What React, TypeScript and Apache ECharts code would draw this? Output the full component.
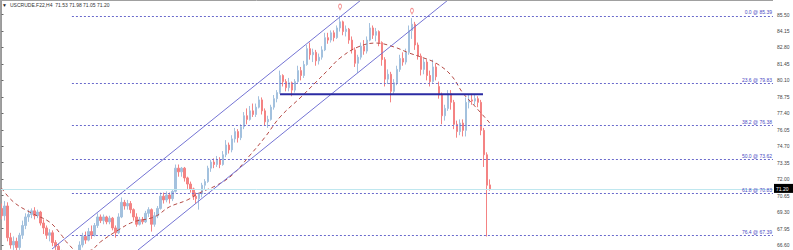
import React, { useEffect, useRef } from "react";
import * as echarts from "echarts";

const chartTitle = "USCRUDE.F22,H4  71.53 71.98 71.05 71.20";

// [open, close, low, high]
const candles: [number, number, number, number][] = [
  [69.6, 69.0, 68.7, 70.0], [69.0, 69.8, 68.6, 70.2], [69.8, 67.2, 66.9, 70.1], [67.2, 66.6, 66.3, 67.6],
  [66.6, 66.9, 66.2, 67.3], [66.9, 66.4, 66.1, 67.2], [66.4, 67.4, 66.2, 67.6], [67.4, 68.2, 67.1, 68.6],
  [68.2, 68.9, 67.9, 69.2], [68.9, 69.1, 68.5, 69.5], [69.1, 69.4, 68.8, 69.6], [69.4, 69.0, 68.7, 69.7],
  [69.0, 69.3, 68.8, 69.5], [69.3, 68.4, 68.2, 69.4], [68.4, 68.0, 67.5, 68.7], [68.0, 67.4, 67.1, 68.2],
  [67.4, 67.6, 66.9, 67.9], [67.6, 66.8, 66.5, 67.8], [66.8, 66.5, 66.2, 67.0], [66.5, 66.1, 65.8, 66.7],
  [66.1, 65.7, 65.4, 66.2], [65.7, 65.3, 65.0, 65.9], [65.3, 65.6, 65.1, 65.9], [65.6, 65.2, 64.9, 65.8],
  [65.2, 65.7, 65.0, 65.9], [65.7, 66.0, 65.5, 66.1], [66.0, 66.6, 65.8, 66.9], [66.6, 67.3, 66.4, 67.6],
  [67.3, 67.0, 66.7, 67.7], [67.0, 67.7, 66.9, 68.0], [67.7, 67.4, 67.1, 68.2], [67.4, 68.2, 67.3, 68.4],
  [68.2, 68.9, 68.0, 69.2], [68.9, 68.6, 68.4, 69.1], [68.6, 68.9, 68.3, 69.1], [68.9, 68.5, 68.3, 69.0],
  [68.5, 68.8, 68.3, 69.0], [68.8, 68.0, 67.8, 68.9], [68.0, 67.6, 67.2, 68.2], [67.6, 68.9, 67.5, 69.2],
  [68.9, 70.1, 68.8, 70.5], [70.1, 69.8, 69.5, 70.3], [69.8, 70.0, 69.5, 70.3], [70.0, 69.5, 69.2, 70.2],
  [69.5, 68.9, 68.6, 69.6], [68.9, 68.3, 68.1, 69.2], [68.3, 68.7, 68.2, 68.9], [68.7, 68.5, 68.3, 68.9],
  [68.5, 69.2, 68.4, 69.4], [69.2, 69.5, 68.9, 69.7], [69.5, 68.3, 67.7, 69.6], [68.3, 69.0, 68.1, 69.3],
  [69.0, 69.6, 68.8, 69.8], [69.6, 70.6, 69.5, 70.9], [70.6, 70.3, 70.0, 70.9], [70.3, 70.7, 70.1, 71.0],
  [70.7, 70.4, 70.0, 70.9], [70.4, 71.0, 70.2, 71.1], [71.0, 72.9, 70.9, 73.2], [72.9, 72.6, 72.2, 73.2],
  [72.6, 72.9, 72.2, 73.0], [72.9, 72.1, 71.8, 73.0], [72.1, 71.6, 71.2, 72.2], [71.6, 71.2, 70.9, 71.8],
  [71.2, 70.6, 70.3, 71.3], [70.6, 70.4, 70.0, 70.9], [70.4, 70.8, 69.5, 70.9], [70.8, 71.5, 70.5, 71.7],
  [71.5, 71.8, 71.2, 72.0], [71.8, 72.9, 71.7, 73.1], [72.9, 73.4, 72.6, 73.6], [73.4, 73.2, 72.9, 73.7],
  [73.2, 73.6, 73.0, 73.9], [73.6, 73.2, 72.9, 73.8], [73.2, 74.0, 73.1, 74.3], [74.0, 74.8, 73.8, 75.2],
  [74.8, 74.4, 74.1, 75.0], [74.4, 75.3, 74.2, 75.6], [75.3, 75.9, 75.0, 76.2], [75.9, 75.4, 75.0, 76.1],
  [75.4, 76.3, 75.2, 76.5], [76.3, 77.2, 76.1, 77.5], [77.2, 76.9, 76.5, 77.8], [76.9, 77.6, 76.8, 78.0],
  [77.6, 77.3, 77.1, 78.2], [77.3, 77.9, 77.1, 78.2], [77.9, 78.5, 77.8, 78.8], [78.5, 77.6, 77.3, 78.7],
  [77.6, 76.7, 76.4, 77.8], [76.7, 76.9, 76.2, 77.2], [76.9, 77.9, 76.8, 78.1], [77.9, 78.6, 77.7, 78.9],
  [78.6, 79.1, 78.3, 79.3], [79.1, 80.5, 79.0, 80.9], [80.5, 80.0, 79.6, 80.6], [80.0, 79.5, 79.2, 80.2],
  [79.5, 79.9, 79.2, 80.3], [79.9, 79.3, 78.8, 80.0], [79.3, 80.0, 79.1, 80.2], [80.0, 80.9, 79.9, 81.3],
  [80.9, 80.5, 80.1, 81.2], [80.5, 81.4, 80.3, 81.7], [81.4, 82.7, 81.3, 83.0], [82.7, 82.2, 81.8, 83.2],
  [82.2, 82.4, 81.6, 82.7], [82.4, 81.7, 81.3, 82.6], [81.7, 82.0, 81.4, 82.3], [82.0, 82.6, 81.8, 82.9],
  [82.6, 83.6, 82.5, 84.0], [83.6, 83.4, 83.1, 84.0], [83.4, 84.0, 83.2, 84.2], [84.0, 83.6, 83.3, 84.2],
  [83.6, 84.4, 83.5, 84.6], [84.4, 84.9, 84.1, 85.39], [84.9, 84.1, 83.8, 85.0], [84.1, 84.3, 83.7, 84.6],
  [84.3, 83.4, 83.1, 84.4], [83.4, 82.6, 82.3, 83.7], [82.6, 81.5, 81.2, 82.8], [81.5, 82.0, 80.7, 82.2],
  [82.0, 82.9, 81.8, 83.2], [82.9, 82.5, 82.2, 83.4], [82.5, 83.4, 82.3, 83.7], [83.4, 84.4, 83.3, 84.8],
  [84.4, 83.8, 83.5, 84.6], [83.8, 84.1, 83.3, 84.4], [84.1, 83.2, 82.9, 84.2], [83.2, 81.8, 81.3, 83.3],
  [81.8, 80.2, 79.6, 82.0], [80.2, 80.6, 79.8, 81.0], [80.6, 79.2, 78.3, 80.8], [79.2, 79.9, 79.0, 80.2],
  [79.9, 81.0, 79.7, 81.3], [81.0, 81.9, 80.8, 82.2], [81.9, 81.6, 81.3, 82.4], [81.6, 82.4, 81.4, 82.7],
  [82.4, 84.2, 82.2, 84.6], [84.2, 84.7, 83.5, 85.2], [84.7, 83.0, 82.6, 84.9], [83.0, 82.1, 81.8, 83.2],
  [82.1, 81.0, 80.5, 82.3], [81.0, 81.6, 80.6, 81.9], [81.6, 80.5, 80.1, 81.8], [80.5, 80.0, 79.6, 80.9],
  [80.0, 81.2, 79.9, 81.8], [81.2, 80.4, 80.1, 81.5], [79.6, 78.9, 78.6, 80.0], [78.9, 77.2, 76.5, 79.1],
  [77.2, 77.8, 76.8, 78.1], [77.8, 79.0, 77.6, 79.3], [79.0, 78.3, 77.7, 79.3], [78.3, 76.5, 76.1, 78.5],
  [76.5, 75.9, 75.4, 76.8], [75.9, 76.6, 75.6, 76.9], [76.6, 76.0, 75.5, 76.9], [76.0, 78.3, 75.5, 78.7],
  [78.3, 78.5, 77.8, 78.9], [78.5, 78.4, 78.1, 79.0], [78.4, 78.6, 78.1, 78.9], [78.6, 78.3, 77.9, 78.8],
  [78.3, 76.0, 75.6, 78.5], [76.0, 74.0, 73.0, 76.2], [74.0, 71.5, 67.3, 74.2], [71.53, 71.2, 71.05, 71.98],
];

const maIndex = [0, 4, 10, 16, 20, 22, 26, 30, 33, 39, 44, 51, 56, 62, 66, 72, 77, 83, 88, 93, 100, 105, 109, 113, 119, 125, 131, 136, 141, 145, 150, 154, 158, 163];
const maValue = [71.27, 70.13, 69.22, 68.49, 67.42, 66.76, 66.03, 66.19, 66.85, 67.83, 68.49, 68.9, 69.72, 70.29, 70.86, 71.52, 72.34, 73.98, 75.46, 77.1, 78.74, 79.97, 80.95, 81.93, 82.84, 83.16, 82.84, 82.35, 81.93, 81.52, 80.54, 79.06, 77.98, 76.6];

const fibNames = ["0.0", "23.6", "38.2", "50.0", "61.8", "76.4"];
const fibLevels = [85.39, 79.83, 76.38, 73.62, 70.83, 67.39];
const fibStart = 23.5;

const yTicks = [85.5, 84.15, 82.8, 81.45, 80.1, 78.75, 77.4, 76.05, 74.7, 73.35, 72.0, 70.65, 69.3, 67.95, 66.6];
const bidPrice = 71.2;

const supportLine: [number, number][] = [[92.96, 78.96], [160.7, 78.96]];
const channelUpper: [number, number][] = [[16.86, 66.27], [119.99, 86.69]];
const channelLower: [number, number][] = [[45.56, 66.19], [149.04, 86.69]];
const peakMarks: [number, number][] = [[113, 85.85], [137, 85.5]];

const Y_MIN = 66.19;
const Y_MAX = 86.69;
const X_MIN = -0.5;
const X_MAX = 257.5;

export default function App() {
  const ref = useRef<HTMLDivElement>(null);
  useEffect(() => {
    if (!ref.current) return;
    const chart = echarts.init(ref.current, undefined, { renderer: "svg" });
    const font = "Liberation Sans";
    const fibColor = "#6a6acc";
    chart.setOption({
      animation: false,
      backgroundColor: "#ffffff",
      grid: { left: 0, right: 20, top: 0, bottom: 0 },
      xAxis: {
        type: "value",
        min: X_MIN,
        max: X_MAX,
        show: false,
        splitLine: { show: false },
      },
      yAxis: {
        type: "value",
        position: "right",
        min: Y_MIN,
        max: Y_MAX,
        scale: true,
        splitLine: { show: false },
        axisLine: { show: true, lineStyle: { color: "#9a9a9a", width: 1 } },
        axisTick: { show: true, length: 2, lineStyle: { color: "#666" }, customValues: yTicks },
        axisLabel: {
          show: true,
          customValues: yTicks,
          fontSize: 5,
          fontFamily: font,
          color: "#444",
          margin: 4,
          formatter: (v: number) => v.toFixed(2),
        },
      },
      series: [
        {
          type: "line",
          data: maIndex.map((x, i) => [x, maValue[i]]),
          smooth: 0.4,
          symbol: "none",
          lineStyle: { color: "#b54a45", width: 1, type: [4, 3] },
          z: 3,
        },
        {
          type: "candlestick",
          data: candles.map((c, i) => [i, c[0], c[1], c[2], c[3]]),
          encode: { x: 0, y: [1, 2, 3, 4] },
          barWidth: 2,
          itemStyle: {
            color: "#a3c1de",
            borderColor: "#a3c1de",
            color0: "#f48383",
            borderColor0: "#f48383",
            borderWidth: 1,
          },
          z: 2,
          markLine: {
            silent: true,
            symbol: "none",
            animation: false,
            data: [
              [
                { coord: [X_MIN, bidPrice], lineStyle: { color: "#bfe7ef", type: "solid", width: 1 }, label: { show: false } },
                { coord: [X_MAX, bidPrice] },
              ],
              ...fibLevels.map((v, k) => [
                {
                  coord: [fibStart, v],
                  lineStyle: { color: fibColor, type: [2, 2], width: 1 },
                  label: {
                    show: true,
                    position: "insideEndTop",
                    formatter: `${fibNames[k]} @ ${v.toFixed(2)}`,
                    color: "#4a4ac4",
                    fontSize: 5,
                    fontFamily: font,
                    distance: [1, 1],
                  },
                },
                { coord: [X_MAX, v] },
              ]),
            ],
          },
        },
        {
          type: "line",
          data: channelUpper,
          symbol: "none",
          lineStyle: { color: "#7474d4", width: 1 },
          z: 4,
        },
        {
          type: "line",
          data: channelLower,
          symbol: "none",
          lineStyle: { color: "#7474d4", width: 1 },
          z: 4,
        },
        {
          type: "line",
          data: supportLine,
          symbol: "none",
          lineStyle: { color: "#2b2ba3", width: 2 },
          z: 5,
        },
        {
          type: "scatter",
          data: peakMarks,
          symbol: "pin",
          symbolSize: [5, 7],
          itemStyle: { color: "rgba(0,0,0,0)", borderColor: "#f07a7a", borderWidth: 1 },
          z: 6,
        },
      ],
    });
    const bidY = chart.convertToPixel({ yAxisIndex: 0 }, bidPrice) as number;
    chart.setOption({
      graphic: [
        { type: "line", shape: { x1: 0.5, y1: 0, x2: 0.5, y2: 250 }, style: { stroke: "#a0a0a0", lineWidth: 1 }, z: 100 },
        { type: "line", shape: { x1: 0, y1: 0.5, x2: 773, y2: 0.5 }, style: { stroke: "#a0a0a0", lineWidth: 1 }, z: 100 },
        { type: "text", left: 2, top: 2, style: { text: "▼", fontSize: 5, fill: "#222", fontFamily: font }, z: 100 },
        { type: "text", left: 10, top: 2, style: { text: chartTitle, fontSize: 5, fill: "#333", fontFamily: font }, z: 100 },
        { type: "rect", shape: { x: 774, y: bidY - 5, width: 19, height: 9 }, style: { fill: "#000" }, z: 100 },
        {
          type: "text",
          x: 776,
          y: bidY,
          style: { text: bidPrice.toFixed(2), fontSize: 5, fill: "#fff", fontFamily: font, verticalAlign: "middle", align: "left" },
          z: 101,
        },
      ],
    });
    return () => chart.dispose();
  }, []);
  return (
    <div
      ref={ref}
      style={{ position: "fixed", left: 0, top: 0, width: 793, height: 250, background: "#fff" }}
    />
  );
}
